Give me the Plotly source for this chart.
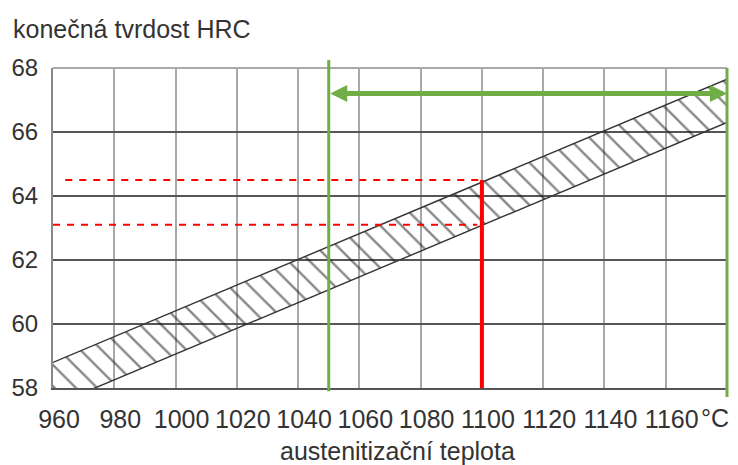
import plotly.graph_objects as go

# ---- data ----
x_ticks = [960, 980, 1000, 1020, 1040, 1060, 1080, 1100, 1120, 1140, 1160, 1180]
x_tick_labels = ["960", "980", "1000", "1020", "1040", "1060", "1080", "1100", "1120", "1140", "1160", ""]
y_ticks = [58, 60, 62, 64, 66, 68]
y_tick_labels = ["58", "60", "62", "64", "66", "68"]
x_unit = "°C"

band_temps = [960, 1180]
band_upper = [58.8, 67.65]
band_lower = [57.45, 66.3]

range_low = 1050          # green: recommended range start
range_high = 1180         # green: recommended range end
range_arrow_hrc = 67.2

red_temp = 1100
red_upper_hrc = 64.5
red_lower_hrc = 63.1
red_upper_dash_temps = [964, 1100]
red_lower_dash_temps = [960, 1098.5]

y_title = "konečná tvrdost HRC"
x_title = "austenitizační teplota"

X0, X1 = 960, 1180
Y0, Y1 = 58, 68

GREEN = "#70AD47"
RED = "#FF0000"
TXT = "#333333"
FONT = "Liberation Sans, Arial, sans-serif"


def xp(v):
    return (v - X0) / (X1 - X0)


fig = go.Figure()

# hatched band
fig.add_trace(go.Scatter(x=band_temps, y=band_lower, mode="lines",
                         line=dict(color="#333333", width=1.4), showlegend=False, hoverinfo="skip"))
fig.add_trace(go.Scatter(x=band_temps, y=band_upper, mode="lines",
                         line=dict(color="#333333", width=1.4), fill="tonexty",
                         fillcolor="rgba(0,0,0,0)",
                         fillpattern=dict(shape="\\", fgcolor="#111111", bgcolor="rgba(0,0,0,0)",
                                          size=15, solidity=0.16),
                         showlegend=False, hoverinfo="skip"))

# red dashed guide lines
fig.add_trace(go.Scatter(x=red_upper_dash_temps, y=[red_upper_hrc] * 2, mode="lines",
                         line=dict(color=RED, width=2, dash="7px,7px"), showlegend=False, hoverinfo="skip"))
fig.add_trace(go.Scatter(x=red_lower_dash_temps, y=[red_lower_hrc] * 2, mode="lines",
                         line=dict(color=RED, width=2, dash="7px,7px"), showlegend=False, hoverinfo="skip"))
# red vertical
fig.add_trace(go.Scatter(x=[red_temp, red_temp], y=[Y0, red_upper_hrc], mode="lines",
                         line=dict(color=RED, width=4), showlegend=False, hoverinfo="skip"))

shapes = [
    # top border (light)
    dict(type="line", xref="paper", yref="paper", x0=0, x1=1, y0=1, y1=1,
         line=dict(color="#AAAAAA", width=2), layer="above"),
    # green verticals
    dict(type="line", xref="paper", yref="paper", x0=xp(range_low), x1=xp(range_low),
         y0=-0.01, y1=1.025, line=dict(color=GREEN, width=3), layer="above"),
    dict(type="line", xref="paper", yref="paper", x0=xp(range_high), x1=xp(range_high),
         y0=-0.028, y1=1.0, line=dict(color=GREEN, width=3), layer="above"),
]

annotations = [
    dict(x=range_high, y=range_arrow_hrc, ax=range_low, ay=range_arrow_hrc,
         xref="x", yref="y", axref="x", ayref="y", text="", showarrow=True,
         arrowhead=2, startarrowhead=2, arrowside="end+start",
         arrowwidth=5, arrowsize=0.68, startarrowsize=0.68, arrowcolor=GREEN),
    dict(x=0, y=1, xref="paper", yref="paper", xanchor="left", yanchor="middle",
         xshift=-42, yshift=39, text=y_title, showarrow=False,
         font=dict(size=25, color=TXT, family=FONT)),
    dict(x=0.5, y=0, xref="paper", yref="paper", xanchor="center", yanchor="middle",
         xshift=7, yshift=-63, text=x_title, showarrow=False,
         font=dict(size=25, color=TXT, family=FONT)),
    dict(x=x_ticks[-2], y=0, xref="x", yref="paper", xanchor="left", yanchor="top",
         xshift=33, yshift=-14, text=x_unit, showarrow=False,
         font=dict(size=25, color=TXT, family=FONT)),
]

fig.update_layout(
    width=738, height=465, autosize=False,
    margin=dict(l=47, r=11, t=68, b=77, pad=0),
    paper_bgcolor="white", plot_bgcolor="white",
    font=dict(family=FONT, color=TXT, size=25),
    shapes=shapes, annotations=annotations,
    xaxis=dict(range=[X0, X1], tickmode="array", tickvals=x_ticks, ticktext=x_tick_labels,
               showgrid=True, gridcolor="#A8A8A8", gridwidth=2, zeroline=False,
               showline=True, linecolor="#555555", linewidth=2,
               ticks="", ticklabelstandoff=8, ticklabelshift=6,
               tickfont=dict(size=25, color=TXT, family=FONT), fixedrange=True),
    yaxis=dict(range=[Y0, Y1], tickmode="array", tickvals=y_ticks, ticktext=y_tick_labels,
               showgrid=True, gridcolor="#555555", gridwidth=2, zeroline=False,
               showline=True, linecolor="#888888", linewidth=2,
               ticks="", ticklabelstandoff=8,
               tickfont=dict(size=24, color=TXT, family=FONT), fixedrange=True),
)

fig.write_html("out.html", config={"displayModeBar": False})
